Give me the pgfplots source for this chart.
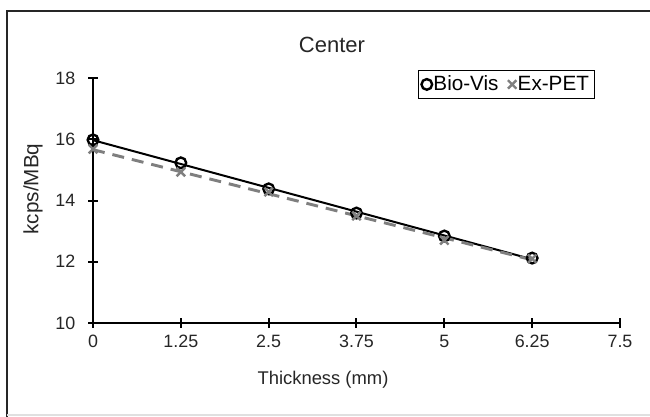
\documentclass[border=0pt]{standalone}
\usepackage{pgfplots}
\pgfplotsset{compat=1.18}
\usepackage{fontspec}
\setmainfont{Liberation Sans}
\definecolor{expet}{HTML}{7F7F7F}
\begin{document}
\begin{tikzpicture}[x=0.75pt,y=0.75pt]
\useasboundingbox (0,0) rectangle (650,417);
\draw[line width=2.2pt, black!85] (7,0) -- (7,406) -- (652,406);
\draw[line width=0.8pt, black!12] (7,2) -- (652,2);
\begin{axis}[
  at={(69.75pt,70.5pt)}, anchor=south west, scale only axis,
  width=395.25pt, height=183.75pt,
  xmin=0, xmax=7.5, ymin=10, ymax=18,
  axis x line*=bottom, axis y line*=left,
  axis line style={-, line width=1.5pt, black},
  xtick={0,1.25,2.5,3.75,5,6.25,7.5},
  xticklabels={0,1.25,2.5,3.75,5,6.25,7.5},
  ytick={10,12,14,16,18},
  tick align=center, major tick length=7.5pt,
  every tick/.style={line width=1.5pt, black},
  /pgf/number format/assume math mode=true,
  tick label style={font=\fontsize{13.4}{15}\selectfont, text=black!85},
  yticklabel style={xshift=-6pt},
  xticklabel style={yshift=-2pt},
  clip=false,
  legend columns=2,
  legend style={at={(0.617,1.033)}, anchor=north west, draw=black, line width=1pt,
    font=\fontsize{15.5}{17}\selectfont, inner sep=2pt,
    /tikz/every odd column/.append style={column sep=-1pt},
    /tikz/every even column/.append style={column sep=5pt}},
  legend image code/.code={\draw[#1] plot coordinates {(0.12cm,0cm)};},
]
\addplot[black, line width=1.5pt, forget plot] coordinates {(0,15.97) (6.25,12.08)};
\addplot[expet, line width=2.2pt, dash pattern=on 9pt off 6pt, forget plot] coordinates {(0,15.66) (6.25,12.06)};
\addplot[only marks, mark=o, mark size=4pt, black, line width=1.8pt] coordinates {
(0,15.98) (1.25,15.23) (2.5,14.38) (3.75,13.59) (5,12.84) (6.25,12.12)};
\addlegendentry{Bio-Vis}
\addplot[only marks, mark=x, mark size=4.5pt, expet, line width=1.8pt] coordinates {
(0,15.68) (1.25,14.93) (2.5,14.28) (3.75,13.5) (5,12.7) (6.25,12.1)};
\addlegendentry{Ex-PET}
\end{axis}
\node[text=black!85, font=\fontsize{16.5}{19}\selectfont] at (332,372) {Center};
\node[rotate=90, text=black!85, font=\fontsize{15.5}{18}\selectfont] at (33,228) {kcps/MBq};
\node[text=black!85, font=\fontsize{13.8}{16}\selectfont] at (323,37) {Thickness (mm)};
\end{tikzpicture}
\end{document}
